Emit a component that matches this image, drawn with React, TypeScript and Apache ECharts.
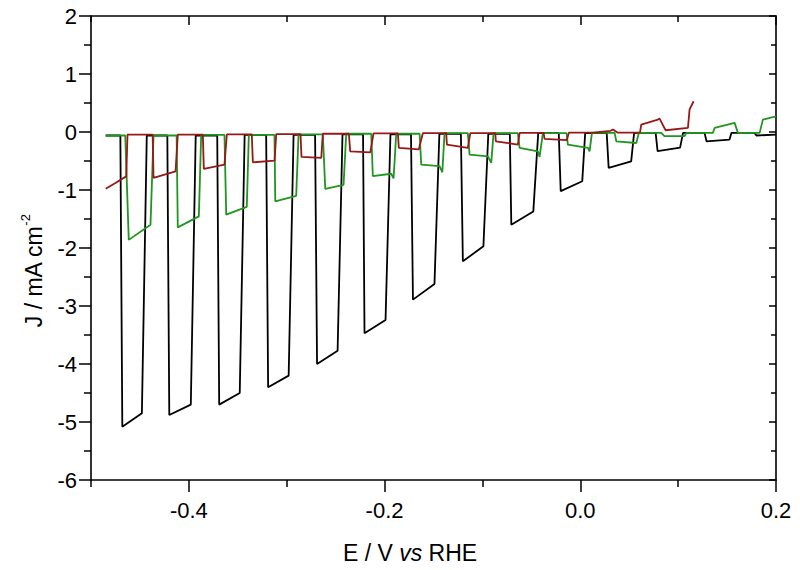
import React, { useEffect, useRef } from 'react';
import * as echarts from 'echarts';

// Tick positions
const xMajor = [-0.4, -0.2, 0.0, 0.2];
const xMinor = [-0.5, -0.3, -0.1, 0.1];
const yMajor = [-6, -5, -4, -3, -2, -1, 0, 1, 2];
const yMinor = [-5.5, -4.5, -3.5, -2.5, -1.5, -0.5, 0.5, 1.5];

// Black trace: [E (V vs RHE), J (mA cm-2)]
const blackTrace: [number, number][] = [
  [-0.485, -0.06], [-0.470, -0.06], [-0.468, -5.08], [-0.448, -4.85], [-0.443, -0.06],
  [-0.422, -0.06], [-0.420, -4.88], [-0.398, -4.70], [-0.393, -0.06],
  [-0.371, -0.06], [-0.369, -4.70], [-0.348, -4.50], [-0.343, -0.05],
  [-0.321, -0.05], [-0.319, -4.40], [-0.298, -4.20], [-0.293, -0.05],
  [-0.271, -0.05], [-0.269, -4.00], [-0.248, -3.77], [-0.243, -0.04],
  [-0.222, -0.04], [-0.2205, -3.47], [-0.199, -3.24], [-0.194, -0.04],
  [-0.173, -0.04], [-0.171, -2.89], [-0.149, -2.62], [-0.144, -0.03],
  [-0.122, -0.03], [-0.120, -2.23], [-0.099, -1.97], [-0.094, -0.03],
  [-0.072, -0.03], [-0.0705, -1.60], [-0.048, -1.37], [-0.043, -0.02],
  [-0.022, -0.02], [-0.020, -1.02], [0.002, -0.85], [0.005, -0.02],
  [0.027, -0.02], [0.029, -0.62], [0.052, -0.505], [0.055, -0.015],
  [0.077, -0.015], [0.079, -0.33], [0.102, -0.27], [0.105, -0.015],
  [0.127, -0.015], [0.129, -0.16], [0.1525, -0.13], [0.1545, -0.015],
  [0.178, -0.015], [0.180, -0.06], [0.200, -0.045],
];

// Green trace
const greenTrace: [number, number][] = [
  [-0.485, -0.06], [-0.465, -0.06], [-0.4614, -1.86], [-0.4392, -1.60], [-0.4361, -0.06],
  [-0.4125, -0.06], [-0.4113, -1.645], [-0.3898, -1.455], [-0.3874, -0.05],
  [-0.3636, -0.05], [-0.3618, -1.425], [-0.3408, -1.29], [-0.3387, -0.05],
  [-0.3125, -0.05], [-0.3117, -1.195], [-0.2903, -1.10], [-0.2879, -0.04],
  [-0.2631, -0.04], [-0.2606, -0.98], [-0.2419, -0.91], [-0.2392, -0.03],
  [-0.2136, -0.03], [-0.2120, -0.76], [-0.1932, -0.72], [-0.1908, -0.80], [-0.1881, -0.03],
  [-0.1642, -0.03], [-0.1625, -0.563], [-0.1438, -0.59], [-0.1410, -0.695], [-0.1387, -0.02],
  [-0.1149, -0.02], [-0.1131, -0.39], [-0.0944, -0.42], [-0.0910, -0.533], [-0.0886, -0.02],
  [-0.0638, -0.02], [-0.0620, -0.275], [-0.0433, -0.333], [-0.0416, -0.43], [-0.0382, -0.02],
  [-0.0140, -0.02], [-0.0127, -0.217], [0.0078, -0.275], [0.0095, -0.333], [0.0119, -0.015],
  [0.0351, -0.015], [0.0368, -0.16], [0.0572, -0.19], [0.0599, -0.015],
  [0.0828, -0.015], [0.0860, -0.07], [0.1066, -0.07], [0.1083, -0.015],
  [0.1355, -0.015], [0.1373, 0.07], [0.1577, 0.157], [0.1611, -0.015],
  [0.1833, -0.015], [0.1866, 0.214], [0.2000, 0.27],
];

// Dark red trace
const redTrace: [number, number][] = [
  [-0.485, -0.98], [-0.475, -0.88], [-0.464, -0.765], [-0.4627, -0.045],
  [-0.4370, -0.045], [-0.4361, -0.79], [-0.4136, -0.68], [-0.4113, -0.045],
  [-0.3857, -0.045], [-0.3847, -0.637], [-0.3636, -0.563], [-0.3612, -0.04],
  [-0.3357, -0.04], [-0.3346, -0.523], [-0.3124, -0.494], [-0.3107, -0.035],
  [-0.2859, -0.035], [-0.2849, -0.43], [-0.2647, -0.447], [-0.2631, -0.03],
  [-0.2365, -0.03], [-0.2351, -0.333], [-0.2146, -0.35], [-0.2113, -0.025],
  [-0.1864, -0.025], [-0.1854, -0.275], [-0.1650, -0.30], [-0.1609, -0.02],
  [-0.1370, -0.02], [-0.1363, -0.217], [-0.1149, -0.275], [-0.1124, -0.02],
  [-0.0869, -0.02], [-0.0863, -0.16], [-0.0638, -0.217], [-0.0620, -0.015],
  [-0.0375, -0.015], [-0.0365, -0.12], [-0.0137, -0.14], [-0.0116, -0.01],
  [0.0123, -0.01], [0.0310, 0.02], [0.0333, 0.045], [0.0380, -0.01],
  [0.0610, -0.01], [0.0623, 0.128], [0.0793, 0.214], [0.0810, 0.23], [0.0872, 0.03],
  [0.1100, 0.07], [0.1117, 0.39], [0.1158, 0.53],
];

const FONT = "'Liberation Sans', Arial, Helvetica, sans-serif";
const BLACK = '#000000';
const GREEN = '#1f961f';
const RED = '#981818';

export default function App() {
  const ref = useRef<HTMLDivElement>(null);

  useEffect(() => {
    if (!ref.current) return;
    const chart = echarts.init(ref.current, null, { renderer: 'svg' });

    const gridRect = { left: 91, top: 16, width: 685, height: 464 };
    const line = { show: true, onZero: false, lineStyle: { color: '#000', width: 1.6 } };
    const noLine = { show: false, onZero: false };
    const tickStyle = { color: '#000', width: 1.5 };

    const xBase = { type: 'value', min: -0.5, max: 0.2, interval: 0.1, splitLine: { show: false } };
    const yBase = { type: 'value', min: -6, max: 2, interval: 1, splitLine: { show: false } };

    const mkSeries = (data: [number, number][], color: string, z: number) => ({
      type: 'line',
      xAxisIndex: 0,
      yAxisIndex: 0,
      data,
      showSymbol: false,
      symbol: 'none',
      silent: true,
      z,
      lineStyle: { color, width: 1.8 },
      itemStyle: { color },
      emphasis: { disabled: true },
    });

    const option: any = {
      animation: false,
      backgroundColor: '#ffffff',
      grid: [
        { ...gridRect },
        { ...gridRect },
      ],
      xAxis: [
        {
          ...xBase, gridIndex: 0, position: 'bottom', axisLine: line,
          axisTick: { show: true, customValues: xMajor, length: 12, lineStyle: tickStyle },
          axisLabel: {
            show: true, customValues: xMajor, margin: 19, fontSize: 22, color: '#000', fontFamily: FONT,
            showMinLabel: true, showMaxLabel: true,
            formatter: (v: number) => (Math.abs(v) < 1e-9 ? '0.0' : v.toFixed(1)),
          },
        },
        {
          ...xBase, gridIndex: 0, position: 'top', axisLine: line,
          axisTick: { show: true, inside: true, customValues: xMajor, length: 9, lineStyle: tickStyle },
          axisLabel: { show: false },
        },
        {
          ...xBase, gridIndex: 1, position: 'bottom', axisLine: noLine,
          axisTick: { show: true, customValues: xMinor, length: 7, lineStyle: tickStyle },
          axisLabel: { show: false },
        },
        {
          ...xBase, gridIndex: 1, position: 'top', axisLine: noLine,
          axisTick: { show: true, inside: true, customValues: xMinor, length: 6, lineStyle: tickStyle },
          axisLabel: { show: false },
        },
      ],
      yAxis: [
        {
          ...yBase, gridIndex: 0, position: 'left', axisLine: line,
          axisTick: { show: true, customValues: yMajor, length: 12, lineStyle: tickStyle },
          axisLabel: {
            show: true, customValues: yMajor, margin: 14, fontSize: 22, color: '#000', fontFamily: FONT,
            showMinLabel: true, showMaxLabel: true,
            formatter: (v: number) => String(Math.round(v)),
          },
        },
        {
          ...yBase, gridIndex: 0, position: 'right', axisLine: line,
          axisTick: { show: true, inside: true, customValues: yMajor, length: 7, lineStyle: tickStyle },
          axisLabel: { show: false },
        },
        {
          ...yBase, gridIndex: 1, position: 'left', axisLine: noLine,
          axisTick: { show: true, customValues: yMinor, length: 7, lineStyle: tickStyle },
          axisLabel: { show: false },
        },
        {
          ...yBase, gridIndex: 1, position: 'right', axisLine: noLine,
          axisTick: { show: true, inside: true, customValues: yMinor, length: 5, lineStyle: tickStyle },
          axisLabel: { show: false },
        },
      ],
      series: [
        mkSeries(blackTrace, BLACK, 2),
        mkSeries(greenTrace, GREEN, 3),
        mkSeries(redTrace, RED, 4),
      ],
      graphic: [
        {
          type: 'text',
          x: 410,
          y: 553,
          silent: true,
          style: {
            text: '{a|E / V }{i|vs}{a| RHE}',
            align: 'center',
            verticalAlign: 'middle',
            fill: '#000',
            fontSize: 23,
            fontFamily: FONT,
            rich: {
              a: { fontSize: 23, fontFamily: FONT, fill: '#000' },
              i: { fontSize: 23, fontFamily: FONT, fontStyle: 'italic', fill: '#000' },
            },
          },
        },
        {
          type: 'text',
          x: 34,
          y: 271,
          rotation: Math.PI / 2,
          silent: true,
          style: {
            text: '{a|J / mA cm}{s|-2}',
            align: 'center',
            verticalAlign: 'middle',
            fill: '#000',
            fontSize: 23,
            fontFamily: FONT,
            rich: {
              a: { fontSize: 23, fontFamily: FONT, fill: '#000', lineHeight: 30 },
              s: { fontSize: 13, fontFamily: FONT, fill: '#000', lineHeight: 14, verticalAlign: 'top' },
            },
          },
        },
      ],
    };

    chart.setOption(option);
    return () => chart.dispose();
  }, []);

  return (
    <div
      ref={ref}
      style={{ position: 'fixed', left: 0, top: 0, width: 800, height: 570, background: '#fff' }}
    />
  );
}
